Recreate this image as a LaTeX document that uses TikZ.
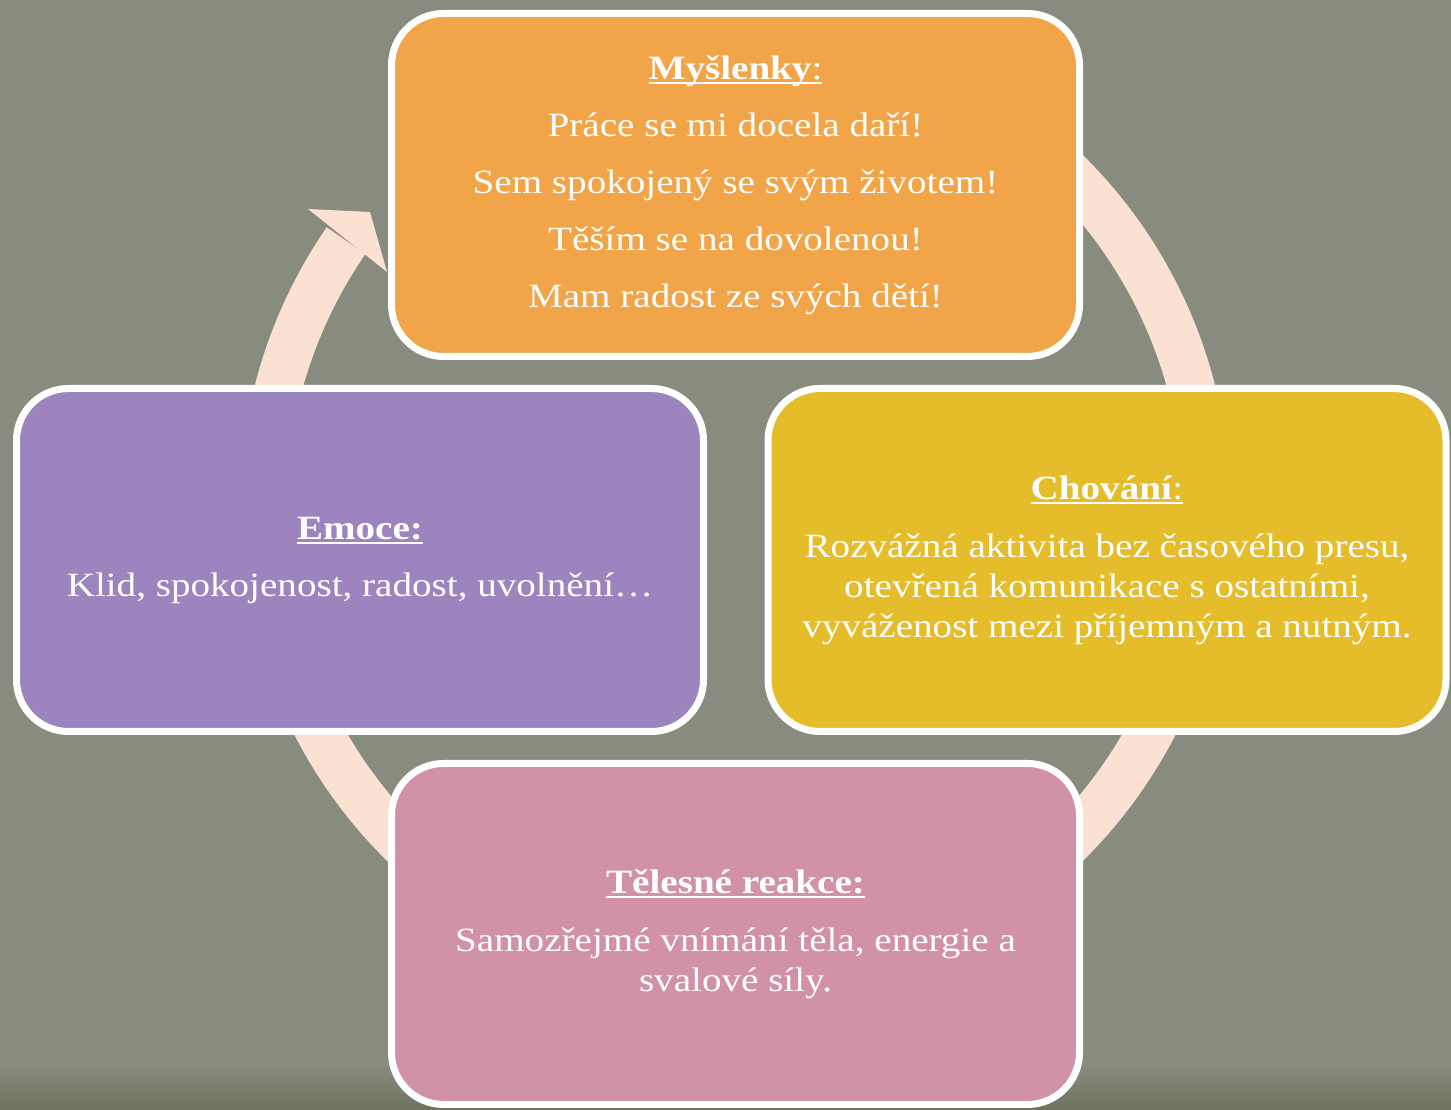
\documentclass[tikz,border=0pt]{standalone}
\usepackage{fontspec}
\setmainfont[FakeStretch=1.15]{Liberation Serif}
\usetikzlibrary{calc}
\definecolor{bgc}{HTML}{888C7E}
\definecolor{bgdark}{HTML}{6E735F}
\definecolor{ringc}{HTML}{FAE1D2}
\definecolor{orangec}{HTML}{F2A548}
\definecolor{purplec}{HTML}{9C85BF}
\definecolor{yellowc}{HTML}{E5BC29}
\definecolor{pinkc}{HTML}{D191A7}
\newcommand\ulx[1]{\setbox0\hbox{#1}\rlap{\rule[-5pt]{\wd0}{2pt}}\box0}
\tikzset{
  cyclebox/.style={draw=white, line width=7pt, rounded corners=52pt, text=white,
    align=center, inner sep=0pt, minimum width=688pt, minimum height=343pt},
  widetext/.style={font=\fontsize{34}{57}\selectfont},
  paratext/.style={font=\fontsize{34}{40}\selectfont}
}
\begin{document}
\begin{tikzpicture}[x=1pt,y=1pt]
\useasboundingbox (0,0) rectangle (1451,1110);
\fill[bgc] (0,0) rectangle (1451,1110);
\fill[bottom color=bgdark, top color=bgc] (0,0) rectangle (1451,45);
% ring
\coordinate (c) at (735,602);
\draw[ringc, line width=47pt] ($(c)+(145.5:472)$) arc[start angle=145.5, end angle=410, radius=472];
\coordinate (h1) at (308,901);
\coordinate (h2) at (370,898);
\coordinate (h3) at (387,838);
\fill[ringc] (h1) -- (h2) -- (h3) -- cycle;
% boxes
\node[cyclebox, fill=orangec, widetext] (mys) at (735.5,925)
  {\ulx{\textbf{Myšlenky}:}\\Práce se mi docela daří!\\Sem spokojený se svým životem!\\Těším se na dovolenou!\\Mam radost ze svých dětí!};
\node[cyclebox, fill=purplec, widetext, minimum width=687pt] (emo) at (360,550)
  {\ulx{\textbf{Emoce:}}\\Klid, spokojenost, radost, uvolnění…};
\node[cyclebox, fill=yellowc, paratext, minimum width=678pt] (cho) at (1107,550)
  {\ulx{\textbf{Chování}:}\\[18pt]Rozvážná aktivita bez časového presu,\\otevřená komunikace s ostatními,\\vyváženost mezi příjemným a nutným.};
\node[cyclebox, fill=pinkc, paratext, minimum height=341pt] (tel) at (735.5,176)
  {\ulx{\textbf{Tělesné reakce:}}\\[18pt]Samozřejmé vnímání těla, energie a\\svalové síly.};
\end{tikzpicture}
\end{document}
